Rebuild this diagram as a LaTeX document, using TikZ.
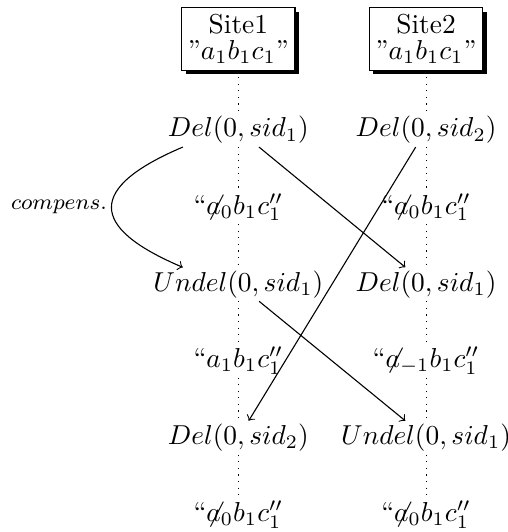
\documentclass[tikz,border=0pt]{standalone}
\usetikzlibrary{shadows}

\newcommand{\slasha}{\rlap{$\not$}a}

\begin{document}
\begin{tikzpicture}[
  site/.style = {draw, fill = white, align = center, inner sep = 2.3pt,
    drop shadow = {fill = black, opacity = 1, shadow xshift = 1.4pt,
      shadow yshift = -1.4pt}},
  lbl/.style = {inner sep = 1pt},
  life/.style = {dotted}
]
  \useasboundingbox (0, 0) rectangle (6.51, -6.83);

  % the two sites
  \node[site] (S1) at (3.06, -.5) {Site1\\[-2.4pt]''$a_1b_1c_1$''};
  \node[site] (S2) at (5.47, -.5) {Site2\\[-2.4pt]''$a_1b_1c_1$''};

  % site 1
  \node[lbl] (P1) at (3.06, -1.67) {$Del(0, sid_1)$};
  \node[lbl] (V1) at (3.06, -2.66) {``$\slasha_0b_1c_1''$};
  \node[lbl] (P2) at (3.06, -3.65) {$Undel(0, sid_1)$};
  \node[lbl] (V2) at (3.06, -4.63) {``$a_1b_1c_1''$};
  \node[lbl] (P3) at (3.06, -5.62) {$Del(0, sid_2)$};
  \node[lbl] (V3) at (3.06, -6.61) {``$\slasha_0b_1c_1''$};

  % site 2
  \node[lbl] (Q1) at (5.47, -1.67) {$Del(0, sid_2)$};
  \node[lbl] (W1) at (5.47, -2.66) {``$\slasha_0b_1c_1''$};
  \node[lbl] (Q2) at (5.47, -3.65) {$Del(0, sid_1)$};
  \node[lbl] (W2) at (5.47, -4.63) {``$\slasha_{-1}b_1c_1''$};
  \node[lbl] (Q3) at (5.47, -5.62) {$Undel(0, sid_1)$};
  \node[lbl] (W3) at (5.47, -6.61) {``$\slasha_0b_1c_1''$};

  \foreach \a/\b in {S1/P1, P1/V1, V1/P2, P2/V2, V2/P3, P3/V3,
                     S2/Q1, Q1/W1, W1/Q2, Q2/W2, W2/Q3, Q3/W3}
    \draw[life] (\a) -- (\b);

  \draw[->] (P1) -- (Q2);
  \draw[->] (Q1) -- (P3);
  \draw[->] (P2) -- (Q3);
  \draw[->] (P1.197) to[out = 203, in = 157, looseness = 2.2]
    node[left, inner sep = 1.5pt, font = \footnotesize] {$compens.$} (P2.163);
\end{tikzpicture}
\end{document}
